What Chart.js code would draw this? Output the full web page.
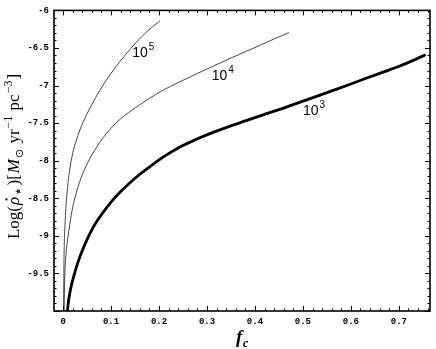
<!DOCTYPE html>
<html>
<head>
<meta charset="utf-8">
<script src="https://cdn.jsdelivr.net/npm/chart.js@4.4.0/dist/chart.umd.min.js"></script>
<style>
  html, body { margin: 0; padding: 0; background: #fff; }
  #wrap { width: 436px; height: 349px; }
</style>
</head>
<body>
<div id="wrap"><canvas id="sfrChart"></canvas></div>
<script>
// curve for 10^3 (thick)
const f1e3 = [0.009, 0.011, 0.014, 0.018, 0.023, 0.029, 0.036, 0.045, 0.055, 0.068, 0.083, 0.100, 0.117, 0.140, 0.160, 0.185, 0.209, 0.240, 0.278, 0.310, 0.348, 0.380, 0.417, 0.450, 0.490, 0.530, 0.563, 0.600, 0.633, 0.670, 0.702, 0.730, 0.756];
const v1e3 = [-10.0, -9.88, -9.76, -9.64, -9.52, -9.39, -9.26, -9.12, -8.98, -8.83, -8.69, -8.55, -8.43, -8.29, -8.18, -8.06, -7.95, -7.83, -7.715, -7.63, -7.54, -7.47, -7.39, -7.32, -7.23, -7.14, -7.065, -6.98, -6.90, -6.815, -6.74, -6.665, -6.59];

// curve for 10^4
const f1e4 = [0.002, 0.0025, 0.003, 0.004, 0.006, 0.008, 0.010, 0.014, 0.020, 0.027, 0.034, 0.041, 0.055, 0.065, 0.076, 0.090, 0.110, 0.130, 0.152, 0.180, 0.209, 0.240, 0.278, 0.310, 0.348, 0.380, 0.410, 0.440, 0.471];
const v1e4 = [-10.0, -9.8, -9.65, -9.45, -9.25, -9.12, -9.02, -8.84, -8.62, -8.44, -8.29, -8.17, -7.98, -7.87, -7.76, -7.64, -7.50, -7.39, -7.29, -7.17, -7.06, -6.96, -6.845, -6.75, -6.64, -6.55, -6.465, -6.38, -6.295];

// curve for 10^5
const f1e5 = [0.001, 0.0015, 0.002, 0.003, 0.0045, 0.006, 0.009, 0.013, 0.020, 0.027, 0.035, 0.048, 0.060, 0.076, 0.090, 0.110, 0.130, 0.152, 0.175, 0.202];
const v1e5 = [-10.0, -9.55, -9.25, -9.0, -8.78, -8.60, -8.37, -8.15, -7.90, -7.74, -7.59, -7.40, -7.25, -7.07, -6.93, -6.75, -6.59, -6.43, -6.28, -6.14];

// labels on the curves
const curveExp = ['3', '4', '5'];
const labelF = [0.500, 0.310, 0.144];
const labelV = [-7.39, -6.92, -6.62];

const xTicks = [0, 0.1, 0.2, 0.3, 0.4, 0.5, 0.6, 0.7];
const xTickLabels = ['0', '0.1', '0.2', '0.3', '0.4', '0.5', '0.6', '0.7'];
const yTicks = [-9.5, -9, -8.5, -8, -7.5, -7, -6.5, -6];
const yTickLabels = ['-9.5', '-9', '-8.5', '-8', '-7.5', '-7', '-6.5', '-6'];

const toPts = (fs, vs) => fs.map((f, i) => ({ x: f, y: vs[i] }));

const tickFont = { family: '"Liberation Mono", "DejaVu Sans Mono", monospace', size: 9, weight: 'bold' };

// frame with inward ticks on all sides, plus text annotations
const framePlugin = {
  id: 'frame',
  afterDraw(chart) {
    const { ctx, chartArea: a, scales: { x, y } } = chart;
    ctx.save();
    ctx.strokeStyle = '#000';
    ctx.lineWidth = 1;
    ctx.beginPath();
    for (let i = 0; i <= 40; i++) {
      const px = Math.round(x.getPixelForValue(i * 0.02)) + 0.5;
      if (px < a.left || px > a.right) continue;
      const len = i % 5 === 0 ? 5 : 2.5;
      ctx.moveTo(px, a.bottom); ctx.lineTo(px, a.bottom - len);
      ctx.moveTo(px, a.top); ctx.lineTo(px, a.top + len);
    }
    for (let i = 0; i <= 40; i++) {
      const py = Math.round(y.getPixelForValue(-10 + i * 0.1)) + 0.5;
      const len = i % 5 === 0 ? 5 : 2.5;
      ctx.moveTo(a.left, py); ctx.lineTo(a.left + len, py);
      ctx.moveTo(a.right, py); ctx.lineTo(a.right - len, py);
    }
    ctx.stroke();
    ctx.lineWidth = 1.6;
    ctx.strokeRect(a.left, a.top, a.right - a.left, a.bottom - a.top);

    // curve labels 10^n
    ctx.fillStyle = '#000';
    ctx.textBaseline = 'alphabetic';
    curveExp.forEach((e, i) => {
      const lx = x.getPixelForValue(labelF[i]);
      const ly = y.getPixelForValue(labelV[i]);
      ctx.font = '14px "Liberation Sans", Arial, sans-serif';
      ctx.fillText('10', lx, ly);
      const w = ctx.measureText('10').width;
      ctx.font = '10px "Liberation Sans", Arial, sans-serif';
      ctx.fillText(e, lx + w + 1, ly - 7);
    });

    // x title f_c
    ctx.font = 'italic bold 19px "Liberation Serif", "DejaVu Serif", serif';
    ctx.fillText('f', 236, 343);
    ctx.font = 'italic bold 12px "Liberation Serif", "DejaVu Serif", serif';
    ctx.fillText('c', 243, 347);

    // y title
    const serif = '"Liberation Serif", "DejaVu Serif", serif';
    const parts = [
      { t: 'Log(', f: '17px ' + serif, dy: 0 },
      { t: 'ρ', f: 'italic 17px ' + serif, dy: 0, dot: true },
      { t: '⋆', f: '15px "DejaVu Sans", sans-serif', dy: 4 },
      { t: ')[', f: '17px ' + serif, dy: 0 },
      { t: 'M', f: 'italic 17px ' + serif, dy: 0 },
      { t: '⊙', f: '11px "DejaVu Sans", sans-serif', dy: 4 },
      { t: ' yr', f: '17px ' + serif, dy: 0 },
      { t: '−1', f: '12px ' + serif, dy: -7 },
      { t: ' pc', f: '17px ' + serif, dy: 0 },
      { t: '−3', f: '12px ' + serif, dy: -7 },
      { t: ']', f: '17px ' + serif, dy: 0 }
    ];
    let total = 0;
    parts.forEach(p => { ctx.font = p.f; p.w = ctx.measureText(p.t).width; total += p.w + 1; });
    ctx.translate(19, 156);
    ctx.rotate(-Math.PI / 2);
    let cx = -total / 2;
    parts.forEach(p => {
      ctx.font = p.f;
      ctx.fillText(p.t, cx, p.dy);
      if (p.dot) {
        ctx.beginPath();
        ctx.arc(cx + p.w / 2 + 1.5, -12.5, 1.1, 0, Math.PI * 2);
        ctx.fill();
      }
      cx += p.w + 1;
    });
    ctx.restore();
  }
};

const ctx = document.getElementById('sfrChart').getContext('2d');
const sfrChart = new Chart(ctx, {
  type: 'scatter',
  data: {
    datasets: [
      { label: '10^3', data: toPts(f1e3, v1e3), showLine: true, borderColor: '#000', borderWidth: 2.8, pointRadius: 0, cubicInterpolationMode: 'monotone' },
      { label: '10^4', data: toPts(f1e4, v1e4), showLine: true, borderColor: '#333', borderWidth: 0.9, pointRadius: 0, cubicInterpolationMode: 'monotone' },
      { label: '10^5', data: toPts(f1e5, v1e5), showLine: true, borderColor: '#333', borderWidth: 0.9, pointRadius: 0, cubicInterpolationMode: 'monotone' }
    ]
  },
  options: {
    responsive: true,
    maintainAspectRatio: false,
    animation: false,
    layout: { padding: { top: 7, right: 6, left: 0, bottom: 0 } },
    plugins: { legend: { display: false }, tooltip: { enabled: false } },
    scales: {
      x: {
        type: 'linear',
        min: -0.019,
        max: 0.765,
        afterBuildTicks: s => { s.ticks = xTicks.map(v => ({ value: v })); },
        afterFit: s => { s.height = 38; },
        ticks: {
          font: tickFont,
          color: '#000',
          padding: 5,
          maxRotation: 0,
          autoSkip: false,
          callback: (v, i) => xTickLabels[i]
        },
        grid: { display: false, drawTicks: false },
        border: { display: false }
      },
      y: {
        type: 'linear',
        min: -10,
        max: -6,
        afterBuildTicks: s => { s.ticks = yTicks.map(v => ({ value: v })); },
        afterFit: s => { s.width = 54; },
        ticks: {
          font: tickFont,
          color: '#000',
          padding: 5,
          autoSkip: false,
          callback: (v, i) => yTickLabels[i]
        },
        grid: { display: false, drawTicks: false },
        border: { display: false }
      }
    }
  },
  plugins: [framePlugin]
});
</script>
</body>
</html>
